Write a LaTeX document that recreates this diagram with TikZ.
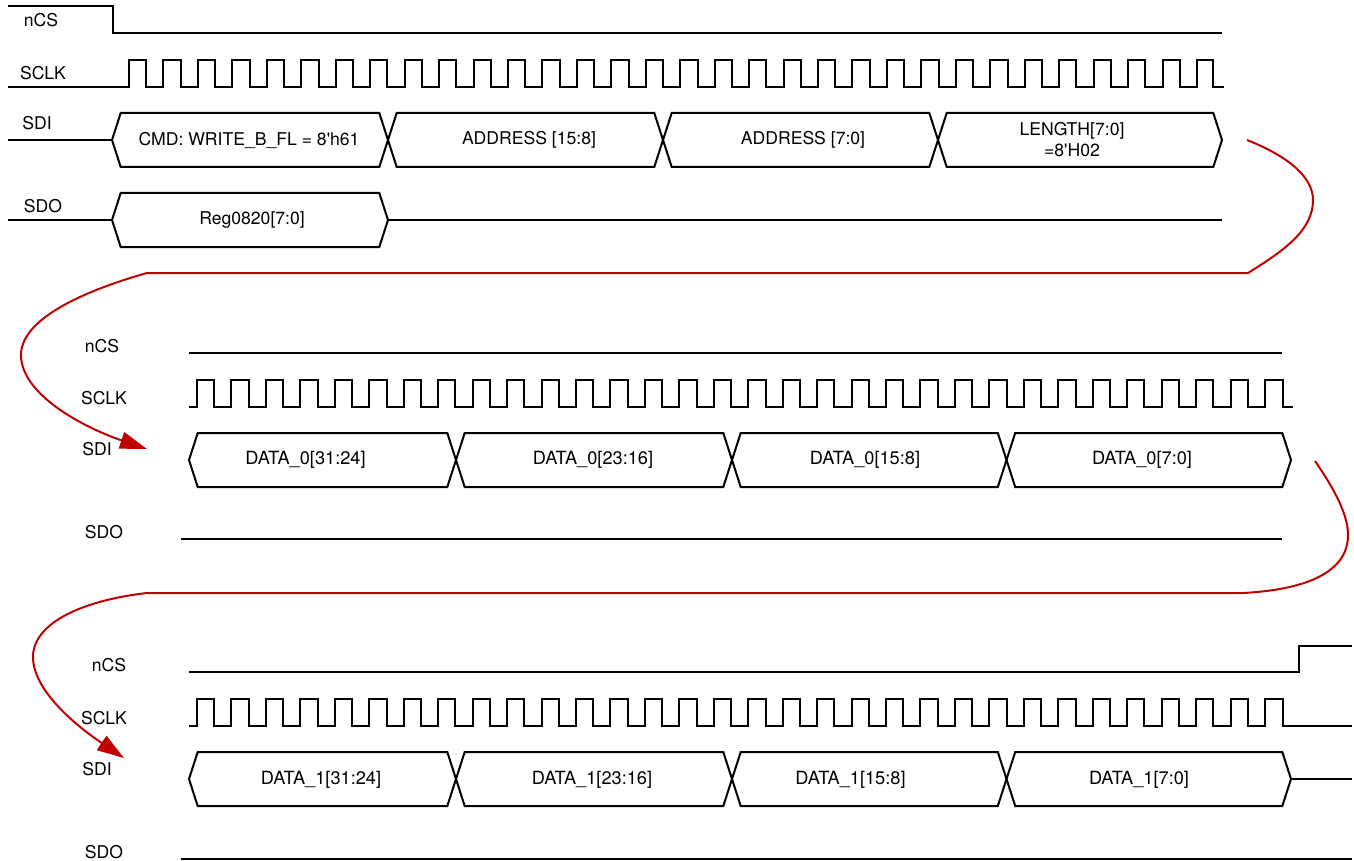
\documentclass[tikz,border=0pt]{standalone}
\usepackage{fontspec}
\setmainfont{TeX Gyre Heros}
\usepackage{xcolor}
\usetikzlibrary{arrows.meta}
\definecolor{linkred}{HTML}{C00000}
\tikzset{
  wave/.style={line width=2pt,black,line join=miter},
  link/.style={line width=2pt,linkred,-{Triangle[length=27pt,width=17pt]}},
  sig/.style={font=\fontsize{17.6}{21.5}\selectfont,inner sep=0pt,align=center},
  datasig/.style={sig,font=\fontsize{18.2}{21.5}\selectfont},
}
% hexagon of one bus field: left tip, right tip, mid level
\newcommand{\busfield}[3]{
  \draw[wave] (#1,#3) -- ++(8.7,-27) -- (#2-8.7,#3-27) -- (#2,#3)
    -- (#2-8.7,#3+27) -- (#1+8.7,#3+27) -- cycle;
}
% clock: start point, rising edge, low level, last falling edge, end
\newcommand{\clockwave}[5]{
  \draw[wave] (#1,#3) -- (#2,#3)
    \foreach \k in {1,...,31} { -- ++(0,-27) -- ++(17.3,0) -- ++(0,27) -- ++(17.15,0) }
    -- ++(0,-27) -- (#4,#3-27) -- (#4,#3) -- (#5,#3);
}

\begin{document}
\begin{tikzpicture}[x=1pt,y=-1pt]
  \useasboundingbox (0,0) rectangle (1354,861);

  % first frame
  \draw[wave] (8,6) -- (113,6) -- (113,33) -- (1222,33);
  \clockwave{8}{129}{87}{1213}{1224}
  \draw[wave] (8,140) -- (112,140);
  \busfield{112}{388}{140}
  \busfield{388}{663}{140}
  \busfield{663}{938}{140}
  \busfield{938}{1222}{140}
  \draw[wave] (8,220) -- (112,220);
  \busfield{112}{388}{220}
  \draw[wave] (388,220) -- (1222,220);
  \node[sig] (ncsA) at (41,20.5) {nCS};
  \node[sig] (sclkA) at (43,73) {SCLK};
  \node[sig] (sdiA) at (37,123.5) {SDI};
  \node[sig] (sdoA) at (43,206) {SDO};
  \node[sig] (cmd) at (249,140) {CMD: WRITE\_B\_FL = 8\textquotesingle h61};
  \node[sig] (addrhi) at (529,139.5) {ADDRESS [15:8]};
  \node[sig] (addrlo) at (803,140) {ADDRESS [7:0]};
  \node[sig] (length) at (1072,139.5) {LENGTH[7:0]\\=8\textquotesingle H02};
  \node[sig] (reg) at (252,220.5) {Reg0820[7:0]};

  % second frame
  \draw[wave] (189,353) -- (1282,353);
  \clockwave{189}{197}{407}{1283}{1293}
  \busfield{189}{456}{460}
  \busfield{456}{732}{460}
  \busfield{732}{1006.5}{460}
  \busfield{1006.5}{1291}{460}
  \draw[wave] (181,539) -- (1282,539);
  \node[sig] (ncsB) at (102,346) {nCS};
  \node[sig] (sclkB) at (104,398.5) {SCLK};
  \node[sig] (sdiB) at (97,449.5) {SDI};
  \node[sig] (sdoB) at (104,532) {SDO};
  \node[datasig] (d0a) at (305.5,459.5) {DATA\_0[31:24]};
  \node[datasig] (d0b) at (593,459.5) {DATA\_0[23:16]};
  \node[datasig] (d0c) at (865,459.5) {DATA\_0[15:8]};
  \node[datasig] (d0d) at (1142,459.5) {DATA\_0[7:0]};

  % third frame
  \draw[wave] (189,672) -- (1299,672) -- (1299,646) -- (1352,646);
  \clockwave{189}{197}{726}{1283}{1352}
  \busfield{189}{456}{779}
  \busfield{456}{732}{779}
  \busfield{732}{1006.5}{779}
  \busfield{1006.5}{1291}{779}
  \draw[wave] (1291,779) -- (1352,779);
  \draw[wave] (181,859) -- (1352,859);
  \node[sig] (ncsC) at (109,665) {nCS};
  \node[sig] (sclkC) at (104,718.5) {SCLK};
  \node[sig] (sdiC) at (97,769.5) {SDI};
  \node[sig] (sdoC) at (104,852) {SDO};
  \node[datasig] (d1a) at (321,779.5) {DATA\_1[31:24]};
  \node[datasig] (d1b) at (592,779.5) {DATA\_1[23:16]};
  \node[datasig] (d1c) at (850.5,779.5) {DATA\_1[15:8]};
  \node[datasig] (d1d) at (1139,779.5) {DATA\_1[7:0]};

  % links between the frames
  \coordinate (outA) at (1247,140);
  \coordinate (inB) at (147,449);
  \coordinate (outB) at (1315,461);
  \coordinate (inC) at (124,758);
  \draw[link] (outA) .. controls (1290,157) and (1313,178) .. (1313,200)
    .. controls (1313,230) and (1285,250) .. (1248,273) -- (147,273)
    .. controls (80,292) and (21,320) .. (21,355)
    .. controls (21,395) and (85,428) .. (inB);
  \draw[link] (outB) .. controls (1335,490) and (1348,515) .. (1348,535)
    .. controls (1348,575) and (1300,590) .. (1243,593) -- (147,593)
    .. controls (85,600) and (33,622) .. (33,657)
    .. controls (33,690) and (75,725) .. (inC);
\end{tikzpicture}
\end{document}
